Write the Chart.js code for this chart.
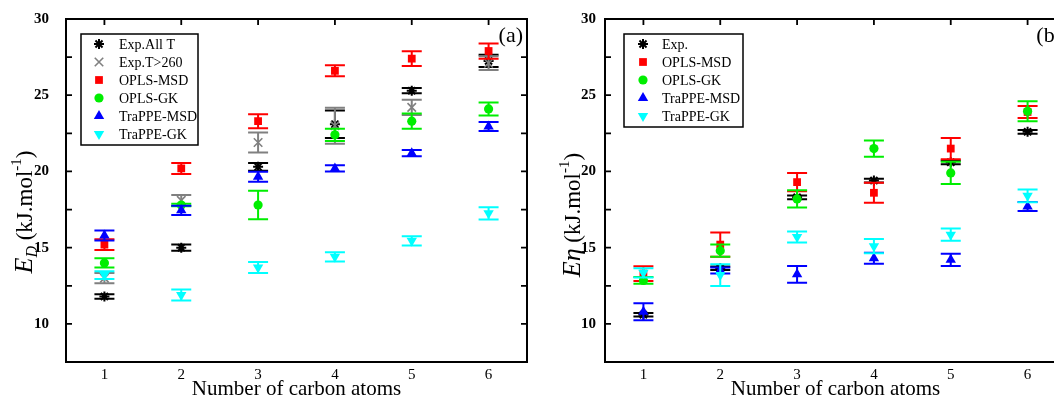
<!DOCTYPE html>
<html><head><meta charset="utf-8">
<script src="https://cdn.jsdelivr.net/npm/chart.js@4.4.0/dist/chart.umd.min.js"></script>
<style>
html,body{margin:0;padding:0;background:#fff;overflow:hidden;width:1054px;height:400px;position:relative;}
#wrapA{position:absolute;left:0;top:0;width:540px;height:400px;}
#wrapB{position:absolute;left:539px;top:0;width:540px;height:400px;}
canvas{display:block;}
</style></head><body>
<div id="wrapA"><canvas id="cA" width="540" height="400"></canvas></div>
<div id="wrapB"><canvas id="cB" width="540" height="400"></canvas></div>
<script>
// ---------- DATA ----------
const carbons = [1, 2, 3, 4, 5, 6];
const xTickValues = [1, 2, 3, 4, 5, 6];
const yTickValues = [7.5, 10, 12.5, 15, 17.5, 20, 22.5, 25, 27.5, 30];

// Panel (a): E_D
const aNames = ['Exp.All T', 'Exp.T>260', 'OPLS-MSD', 'OPLS-GK', 'TraPPE-MSD', 'TraPPE-GK'];
const aExpAll      = [11.8, 15.0, 20.3, 23.1, 25.3, 27.25];
const aExpAllErr   = [0.15, 0.2, 0.25, 0.9, 0.17, 0.4];
const aExpT260     = [13.0, 18.1, 21.9, 23.0, 24.2, 27.1];
const aExpT260Err  = [0.33, 0.36, 0.66, 1.18, 0.5, 0.45];
const aOplsMsd     = [15.2, 20.2, 23.3, 26.6, 27.4, 27.9];
const aOplsMsdErr  = [0.36, 0.36, 0.46, 0.36, 0.48, 0.5];
const aOplsGk      = [14.0, 17.8, 17.8, 22.4, 23.3, 24.1];
const aOplsGkErr   = [0.3, 0.08, 0.93, 0.4, 0.5, 0.43];
const aTrappeMsd   = [15.8, 17.45, 19.65, 20.2, 21.2, 22.95];
const aTrappeMsdErr= [0.33, 0.3, 0.33, 0.2, 0.2, 0.3];
const aTrappeGk    = [13.2, 11.9, 13.7, 14.4, 15.45, 17.25];
const aTrappeGkErr = [0.26, 0.36, 0.36, 0.3, 0.3, 0.4];

// Panel (b): E_eta
const bNames = ['Exp.', 'OPLS-MSD', 'OPLS-GK', 'TraPPE-MSD', 'TraPPE-GK'];
const bExp         = [10.6, 13.65, 18.3, 19.4, 20.6, 22.6];
const bExpErr      = [0.12, 0.12, 0.12, 0.12, 0.12, 0.12];
const bOplsMsd     = [13.3, 15.2, 19.3, 18.6, 21.5, 23.9];
const bOplsMsdErr  = [0.48, 0.8, 0.6, 0.66, 0.7, 0.4];
const bOplsGk      = [12.85, 14.8, 18.2, 21.5, 19.9, 23.95];
const bOplsGkErr   = [0.22, 0.4, 0.56, 0.53, 0.73, 0.65];
const bTrappeMsd   = [10.8, 13.5, 13.25, 14.3, 14.2, 17.7];
const bTrappeMsdErr= [0.56, 0.2, 0.55, 0.36, 0.4, 0.3];
const bTrappeGk    = [13.35, 13.2, 15.7, 15.1, 15.85, 18.4];
const bTrappeGkErr = [0.3, 0.72, 0.36, 0.47, 0.4, 0.42];

// ---------- STYLES ----------
const SERIF = "'Liberation Serif', 'Times New Roman', serif";
const STY = {
  expAll:  {color:'#000000', pointStyle:'star',     radius:5, borderWidth:2, rotation:0},
  expT:    {color:'#808080', pointStyle:'crossRot', radius:6, borderWidth:1.6, rotation:0},
  oMsd:    {color:'#ff0000', pointStyle:'rect',     radius:5.5, borderWidth:0, rotation:0},
  oGk:     {color:'#00ee00', pointStyle:'circle',   radius:4.6, borderWidth:0, rotation:0},
  tMsd:    {color:'#0000ff', pointStyle:'triangle', radius:6, borderWidth:0, rotation:0},
  tGk:     {color:'#00ffff', pointStyle:'triangle', radius:6, borderWidth:0, rotation:180}
};

function makeDataset(label, values, errs, st, idx) {
  return {
    label: label,
    data: carbons.map((c, i) => ({x: c, y: values[i]})),
    errors: errs,
    showLine: false,
    pointStyle: st.pointStyle,
    pointRadius: st.radius,
    pointHoverRadius: st.radius,
    pointRotation: st.rotation,
    backgroundColor: st.color,
    borderColor: st.color,
    pointBorderWidth: st.borderWidth,
    borderWidth: st.borderWidth,
    order: -idx,
    _sty: st
  };
}

// ---------- PLUGINS ----------
const errorBarPlugin = {
  id: 'errorBars',
  beforeDatasetDraw(chart, args) {
    const ds = chart.data.datasets[args.index];
    if (!ds.errors) return;
    const meta = args.meta;
    const ys = chart.scales.y;
    const ctx = chart.ctx;
    ctx.save();
    ctx.strokeStyle = ds.borderColor;
    ctx.lineWidth = 2;
    const cap = 10;
    meta.data.forEach((pt, i) => {
      const v = ds.data[i].y, e = ds.errors[i];
      const yt = ys.getPixelForValue(v + e), yb = ys.getPixelForValue(v - e);
      const x = pt.x;
      ctx.beginPath();
      ctx.moveTo(x, yt); ctx.lineTo(x, yb);
      ctx.moveTo(x - cap, yt); ctx.lineTo(x + cap, yt);
      ctx.moveTo(x - cap, yb); ctx.lineTo(x + cap, yb);
      ctx.stroke();
    });
    ctx.restore();
  }
};

const framePlugin = {
  id: 'frame',
  afterDraw(chart) {
    const {ctx, chartArea: a, scales} = chart;
    ctx.save();
    ctx.strokeStyle = '#000';
    ctx.lineWidth = 2;
    ctx.strokeRect(a.left, a.top, a.right - a.left, a.bottom - a.top);
    ctx.lineWidth = 1.8;
    ctx.beginPath();
    const tl = 6;
    xTickValues.forEach(v => {
      const x = scales.x.getPixelForValue(v);
      ctx.moveTo(x, a.top); ctx.lineTo(x, a.top + tl);
    });
    yTickValues.forEach(v => {
      if (v <= scales.y.min || v >= scales.y.max) return;
      const y = scales.y.getPixelForValue(v);
      ctx.moveTo(a.left, y); ctx.lineTo(a.left + tl, y);
      ctx.moveTo(a.right, y); ctx.lineTo(a.right - tl, y);
    });
    ctx.stroke();
    ctx.restore();
  }
};

function drawMarker(ctx, st, x, y) {
  ctx.save();
  ctx.fillStyle = st.color;
  ctx.strokeStyle = st.color;
  ctx.lineWidth = st.borderWidth;
  if (Chart.helpers && Chart.helpers.drawPoint) {
    Chart.helpers.drawPoint(ctx, {pointStyle: st.pointStyle, rotation: st.rotation, radius: st.radius, borderWidth: st.borderWidth}, x, y);
  } else {
    ctx.beginPath(); ctx.arc(x, y, st.radius, 0, Math.PI * 2); ctx.fill();
  }
  ctx.restore();
}

const decorPlugin = {
  id: 'decor',
  afterDraw(chart, args, opts) {
    const ctx = chart.ctx;
    const a = chart.chartArea;
    // legend box
    const L = opts.legend;
    ctx.save();
    ctx.fillStyle = '#fff';
    ctx.fillRect(L.x, L.y, L.w, L.h);
    ctx.strokeStyle = '#000';
    ctx.lineWidth = 1.5;
    ctx.strokeRect(L.x, L.y, L.w, L.h);
    chart.data.datasets.forEach((ds, i) => {
      const yy = L.y + L.firstRow + i * L.rowH;
      drawMarker(ctx, ds._sty, L.x + L.markX, yy);
      ctx.fillStyle = '#000';
      ctx.font = '14px ' + SERIF;
      ctx.textBaseline = 'middle';
      ctx.textAlign = 'left';
      ctx.fillText(ds.label, L.x + L.textX, yy + 1);
    });
    // panel label
    ctx.font = '22px ' + SERIF;
    ctx.textAlign = 'right';
    ctx.textBaseline = 'middle';
    ctx.fillText(opts.panel, a.right - 4, a.top + 17);
    // y title (rotated, with sub/superscripts)
    const parts = opts.yTitle;
    ctx.translate(opts.yTitleX, opts.yTitleY);
    ctx.rotate(-Math.PI / 2);
    let total = 0;
    parts.forEach(p => { ctx.font = p.font; p.w = ctx.measureText(p.text).width; total += p.w; });
    let x = -total / 2;
    ctx.textAlign = 'left';
    ctx.textBaseline = 'alphabetic';
    parts.forEach(p => { ctx.font = p.font; ctx.fillText(p.text, x, p.dy); x += p.w; });
    ctx.restore();
  }
};

function buildChart(canvasId, datasets, decor, tickPad) {
  return new Chart(document.getElementById(canvasId), {
    type: 'scatter',
    data: {datasets: datasets},
    plugins: [errorBarPlugin, framePlugin, decorPlugin],
    options: {
      responsive: false,
      animation: false,
      devicePixelRatio: 1,
      layout: {padding: {left: 0, right: 13, top: 19, bottom: 0}},
      plugins: {legend: {display: false}, tooltip: {enabled: false}, decor: decor},
      scales: {
        x: {
          type: 'linear', min: 0.5, max: 6.5,
          afterBuildTicks: s => { s.ticks = xTickValues.map(v => ({value: v})); },
          afterFit: s => { s.height = 38; s.paddingLeft = 0; s.paddingRight = 0; },
          grid: {display: false, drawTicks: false},
          border: {display: false},
          ticks: {color: '#000', font: {family: SERIF, size: 15}, padding: 4, autoSkip: false, maxRotation: 0},
          title: {display: true, text: 'Number of carbon atoms', color: '#000', font: {family: SERIF, size: 21, lineHeight: 1}, padding: {top: 0, bottom: 0}}
        },
        y: {
          type: 'linear', min: 7.5, max: 30,
          afterBuildTicks: s => { s.ticks = yTickValues.map(v => ({value: v})); },
          afterFit: s => { s.width = 66; s.paddingTop = 0; s.paddingBottom = 0; },
          grid: {display: false, drawTicks: false},
          border: {display: false},
          ticks: {color: '#000', font: {family: SERIF, size: 15, weight: 'bold'}, padding: tickPad, autoSkip: false,
                  callback: v => (v % 5 === 0 ? String(v) : '')}
        }
      }
    }
  });
}

const dsA = [
  makeDataset(aNames[0], aExpAll, aExpAllErr, STY.expAll, 0),
  makeDataset(aNames[1], aExpT260, aExpT260Err, STY.expT, 1),
  makeDataset(aNames[2], aOplsMsd, aOplsMsdErr, STY.oMsd, 2),
  makeDataset(aNames[3], aOplsGk, aOplsGkErr, STY.oGk, 3),
  makeDataset(aNames[4], aTrappeMsd, aTrappeMsdErr, STY.tMsd, 4),
  makeDataset(aNames[5], aTrappeGk, aTrappeGkErr, STY.tGk, 5)
];
const dsB = [
  makeDataset(bNames[0], bExp, bExpErr, STY.expAll, 0),
  makeDataset(bNames[1], bOplsMsd, bOplsMsdErr, STY.oMsd, 1),
  makeDataset(bNames[2], bOplsGk, bOplsGkErr, STY.oGk, 2),
  makeDataset(bNames[3], bTrappeMsd, bTrappeMsdErr, STY.tMsd, 3),
  makeDataset(bNames[4], bTrappeGk, bTrappeGkErr, STY.tGk, 4)
];

buildChart('cA', dsA, {
  legend: {x: 81, y: 34, w: 117, h: 111, firstRow: 10, rowH: 18, markX: 18, textX: 38},
  panel: '(a)',
  yTitleX: 24, yTitleY: 212,
  yTitle: [
    {text: 'E', font: 'italic 26px ' + SERIF, dy: 8},
    {text: 'D', font: 'italic 16px ' + SERIF, dy: 13},
    {text: ' (kJ.mol', font: '23px ' + SERIF, dy: 8},
    {text: '-1', font: '15px ' + SERIF, dy: -3},
    {text: ')', font: '23px ' + SERIF, dy: 8}
  ]
}, 17);

buildChart('cB', dsB, {
  legend: {x: 85, y: 34, w: 119, h: 93, firstRow: 10, rowH: 18, markX: 19, textX: 38},
  panel: '(b)',
  yTitleX: 33, yTitleY: 215,
  yTitle: [
    {text: 'E\u03B7', font: 'italic 26px ' + SERIF, dy: 8},
    {text: ' (kJ.mol', font: '23px ' + SERIF, dy: 8},
    {text: '-1', font: '15px ' + SERIF, dy: -3},
    {text: ')', font: '23px ' + SERIF, dy: 8}
  ]
}, 9);
</script>
</body></html>
